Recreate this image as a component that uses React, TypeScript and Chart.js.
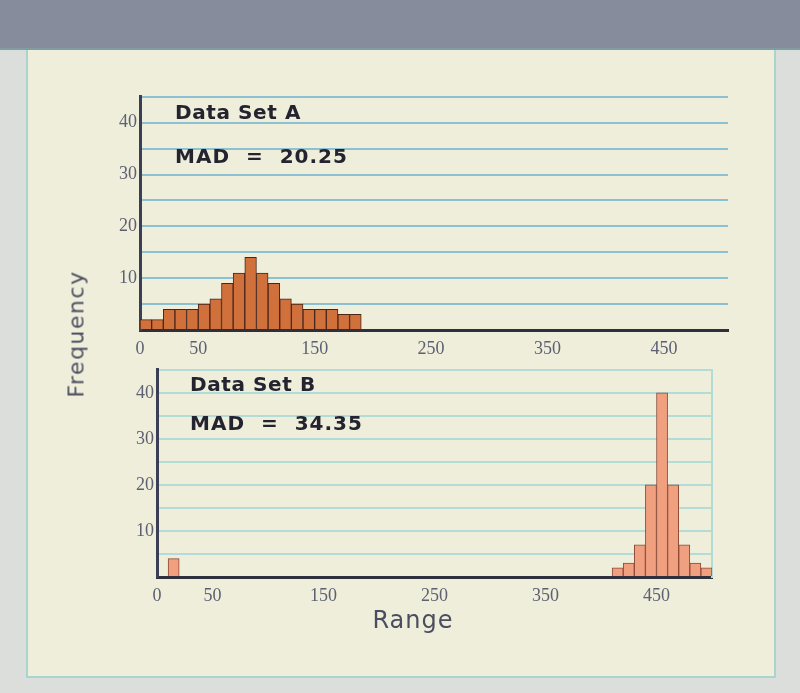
import React, { useEffect, useRef } from 'react';
import { Chart, registerables } from 'chart.js';

Chart.register(...registerables);

// ---- data ----
const binStartsA = [0, 10, 20, 30, 40, 50, 60, 70, 80, 90, 100, 110, 120, 130, 140, 150, 160, 170, 180];
const frequencyA = [2, 2, 4, 4, 4, 5, 6, 9, 11, 14, 11, 9, 6, 5, 4, 4, 4, 3, 3];

const binStartsB = [10, 410, 420, 430, 440, 450, 460, 470, 480, 490];
const frequencyB = [4, 2, 3, 7, 20, 40, 20, 7, 3, 2];

const binWidth = 10;
const xTickValues = [0, 50, 150, 250, 350, 450];
const yTickValues = [10, 20, 30, 40];
const yMax = 45;
const yStep = 5;

const titleA = 'Data Set A';
const madA = 'MAD = 20.25';
const titleB = 'Data Set B';
const madB = 'MAD = 34.35';
const xAxisTitle = 'Range';
const yAxisTitle = 'Frequency';

type PanelOpts = {
  starts: number[];
  values: number[];
  xMax: number;
  fill: string;
  border: string;
  gridColor: string;
  yWidth: number;
  xHeight: number;
  padding: { top: number; right: number; left: number; bottom: number };
  rightBorder: boolean;
};

function HistPanel(props: PanelOpts & { style: React.CSSProperties }) {
  const ref = useRef<HTMLCanvasElement | null>(null);
  useEffect(() => {
    if (!ref.current) return;
    const p = props;
    const tickColor = '#5d6072';
    const tickFont = { family: '"Liberation Serif", "DejaVu Serif", serif', size: 18 };
    const scales: any = {
      x: {
        type: 'linear',
        min: 0,
        max: p.xMax,
        offset: false,
        grid: { display: true, color: 'rgba(0,0,0,0)', offset: false, drawTicks: false },
        border: { display: true, color: '#2f303d', width: 3 },
        ticks: {
          color: tickColor,
          font: tickFont,
          padding: 8,
          maxRotation: 0,
          autoSkip: false,
        },
        afterBuildTicks: (s: any) => {
          s.ticks = xTickValues.map((v) => ({ value: v }));
        },
        afterFit: (s: any) => {
          s.height = p.xHeight;
        },
      },
      y: {
        type: 'linear',
        min: 0,
        max: yMax,
        ticks: {
          stepSize: yStep,
          autoSkip: false,
          color: tickColor,
          font: tickFont,
          padding: 3,
          callback: (v: any) => (yTickValues.includes(Number(v)) ? String(v) : ''),
        },
        grid: { color: p.gridColor, lineWidth: 2, drawTicks: false },
        border: { display: true, color: '#3b3f55', width: 3 },
        afterFit: (s: any) => {
          s.width = p.yWidth;
        },
      },
    };
    if (p.rightBorder) {
      scales.yRight = {
        type: 'linear',
        position: 'right',
        min: 0,
        max: yMax,
        display: true,
        ticks: { display: false },
        grid: { display: false, drawOnChartArea: false, drawTicks: false },
        border: { display: true, color: p.gridColor, width: 2 },
        afterFit: (s: any) => {
          s.width = 0;
        },
      };
    }
    const chart = new Chart(ref.current, {
      type: 'bar',
      data: {
        datasets: [
          {
            data: p.starts.map((s, i) => ({ x: s + binWidth / 2, y: p.values[i] })) as any,
            backgroundColor: p.fill,
            borderColor: p.border,
            borderWidth: 1,
            barPercentage: 1,
            categoryPercentage: 1,
          },
        ],
      },
      options: {
        animation: false,
        responsive: true,
        maintainAspectRatio: false,
        layout: { padding: p.padding },
        plugins: { legend: { display: false }, tooltip: { enabled: false }, title: { display: false } },
        scales,
      },
    });
    return () => chart.destroy();
  }, []);
  return (
    <div style={{ position: 'absolute', ...props.style }}>
      <canvas ref={ref} />
    </div>
  );
}

const annot: React.CSSProperties = {
  position: 'absolute',
  fontFamily: '"DejaVu Sans", "Liberation Sans", sans-serif',
  fontWeight: 'bold',
  fontSize: 20,
  color: '#23242f',
  whiteSpace: 'nowrap',
  lineHeight: 1,
  letterSpacing: 0.6,
};

const madStyle: React.CSSProperties = { ...annot, wordSpacing: 8, letterSpacing: 1 };

export default function App() {
  return (
    <div
      style={{
        position: 'absolute',
        left: 0,
        top: 0,
        width: 800,
        height: 693,
        background: '#dcdedb',
        overflow: 'hidden',
      }}
    >
      <div style={{ position: 'absolute', left: 0, top: 0, width: 800, height: 48, background: '#878c9d', borderBottom: '2px solid #7f9ea3' }} />
      <div
        style={{
          position: 'absolute',
          left: 26,
          top: 50,
          width: 746,
          height: 626,
          background: '#efeedb',
          borderLeft: '2px solid #a9d5cf',
          borderRight: '2px solid #a9d5cf',
          borderBottom: '2px solid #a9d5cf',
        }}
      />
      <HistPanel
        style={{ left: 88, top: 83, width: 662, height: 287 }}
        starts={binStartsA}
        values={frequencyA}
        xMax={505}
        fill="#d0703b"
        border="#4b2519"
        gridColor="#8cc1d4"
        yWidth={52}
        xHeight={40}
        padding={{ top: 4, right: 22, left: 0, bottom: 0 }}
        rightBorder={false}
      />
      <HistPanel
        style={{ left: 100, top: 356, width: 630, height: 276 }}
        starts={binStartsB}
        values={frequencyB}
        xMax={500}
        fill="#f0a07f"
        border="#8d4b39"
        gridColor="#b3dbd8"
        yWidth={57}
        xHeight={55}
        padding={{ top: 4, right: 18, left: 0, bottom: 0 }}
        rightBorder={true}
      />
      <div style={{ ...annot, left: 175, top: 102 }}>{titleA}</div>
      <div style={{ ...madStyle, left: 175, top: 146 }}>{madA}</div>
      <div style={{ ...annot, left: 190, top: 374 }}>{titleB}</div>
      <div style={{ ...madStyle, left: 190, top: 413 }}>{madB}</div>
      <div
        style={{
          position: 'absolute',
          left: 76,
          top: 334,
          transform: 'translate(-50%, -50%) rotate(-90deg)',
          fontFamily: '"DejaVu Sans", "Liberation Sans", sans-serif',
          fontSize: 22,
          color: '#4b4e60',
          whiteSpace: 'nowrap',
          letterSpacing: 1.5,
        }}
      >
        {yAxisTitle}
      </div>
      <div
        style={{
          position: 'absolute',
          left: 413,
          top: 620,
          transform: 'translate(-50%, -50%)',
          fontFamily: '"DejaVu Sans", "Liberation Sans", sans-serif',
          fontSize: 24,
          color: '#4b4e60',
          whiteSpace: 'nowrap',
          letterSpacing: 1,
        }}
      >
        {xAxisTitle}
      </div>
    </div>
  );
}
